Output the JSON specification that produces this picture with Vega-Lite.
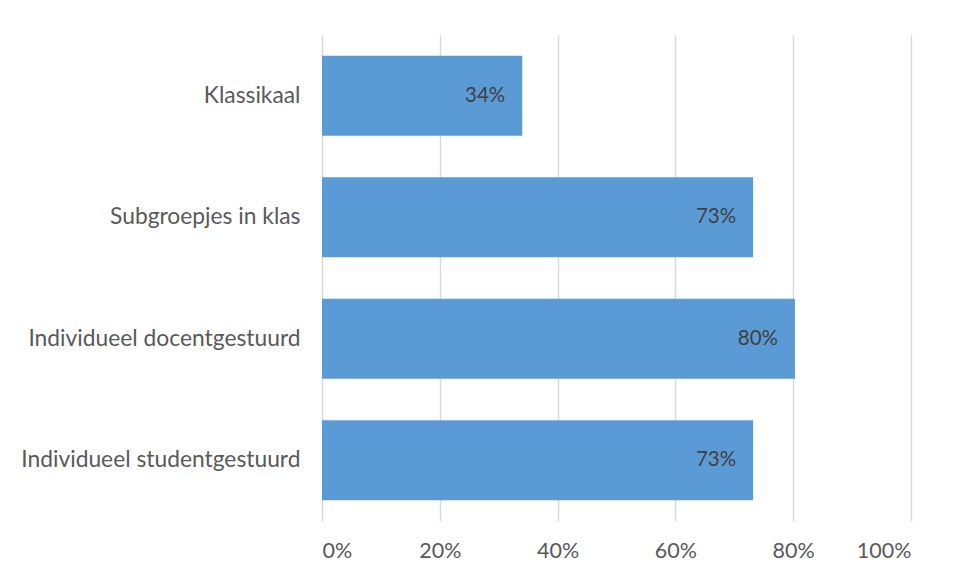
{
  "$schema": "https://vega.github.io/schema/vega-lite/v6.json",
  "width": 589,
  "height": 486,
  "autosize": {"type": "none"},
  "padding": {"left": 322, "top": 35, "right": 45, "bottom": 57},
  "background": "white",
  "config": {"view": {"stroke": null}, "font": "Lato"},
  "data": {
    "values": [
      {"category": "Klassikaal", "value": 0.34},
      {"category": "Subgroepjes in klas", "value": 0.732},
      {"category": "Individueel docentgestuurd", "value": 0.803},
      {"category": "Individueel studentgestuurd", "value": 0.732}
    ]
  },
  "encoding": {
    "y": {
      "field": "category",
      "type": "nominal",
      "sort": null,
      "title": null,
      "scale": {"paddingInner": 0.34, "paddingOuter": 0.17},
      "axis": {
        "domain": false,
        "ticks": false,
        "labelFontSize": 22.8,
        "labelColor": "#595959",
        "labelPadding": 22,
        "labelFont": "Lato",
        "labelLimit": 400
      }
    },
    "x": {
      "field": "value",
      "type": "quantitative",
      "title": null,
      "scale": {"domain": [0, 1], "nice": false},
      "axis": {
        "format": ".0%",
        "values": [0, 0.2, 0.4, 0.6, 0.8, 1],
        "domain": false,
        "ticks": false,
        "grid": true,
        "gridColor": "#d9d9d9",
        "gridWidth": 1.5,
        "labelFontSize": 21.5,
        "labelColor": "#595959",
        "labelPadding": 19,
        "labelFont": "Lato"
      }
    }
  },
  "layer": [
    {"mark": {"type": "bar", "color": "#5B9BD5"}},
    {
      "mark": {"type": "text", "align": "right", "baseline": "middle", "dx": -17, "fontSize": 20.5, "color": "#404040", "font": "Lato"},
      "encoding": {"text": {"field": "value", "type": "quantitative", "format": ".0%"}}
    }
  ]
}
